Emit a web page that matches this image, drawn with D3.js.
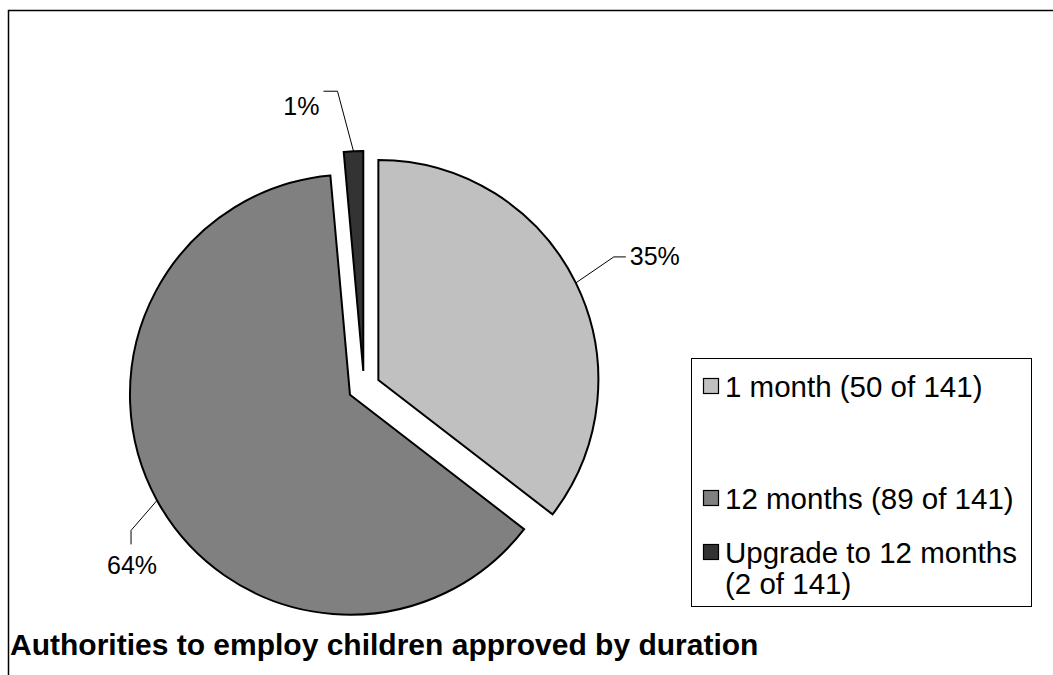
<!DOCTYPE html>
<html><head><meta charset="utf-8">
<script src="https://cdn.jsdelivr.net/npm/d3@7"></script>
<style>body{margin:0;background:#fff}svg{display:block;font-family:"Liberation Sans",Arial,sans-serif}</style>
</head><body><svg id="c" width="1053" height="675"></svg>
<script>
const categories = ["1 month (50 of 141)", "12 months (89 of 141)", "Upgrade to 12 months (2 of 141)"];
const legendLines = [["1 month (50 of 141)"], ["12 months (89 of 141)"], ["Upgrade to 12 months", "(2 of 141)"]];
const values = [50, 89, 2];
const pctLabels = ["35%", "64%", "1%"];
const colors = ["#C0C0C0", "#808080", "#333333"];
const title = "Authorities to employ children approved by duration";

const svg = d3.select("#c");
svg.append("rect").attr("x",8.5).attr("y",10.5).attr("width",1100).attr("height",700)
  .attr("fill","#fff").attr("stroke","#000").attr("stroke-width",1.5);

const cx = 364, cy = 387, R = 220, explode = 16;
const pie = d3.pie().sort(null).value(d=>d);
const arcs = pie(values);
const arc = d3.arc().innerRadius(0).outerRadius(R);
const g = svg.append("g").attr("transform",`translate(${cx},${cy})`);

const leaderCfg = [
  {e:[38,-26], f:[12,0], t:[4,8], a:"start"},
  {e:[-26,30], f:[0,14], t:[1,30], a:"middle"},
  {e:[-16,-60], f:[-14,0], t:[-4,24], a:"end"}
];

arcs.forEach((d,i)=>{
  const mid = (d.startAngle+d.endAngle)/2;
  const ox = explode*Math.sin(mid), oy = -explode*Math.cos(mid);
  const sg = g.append("g").attr("transform",`translate(${ox},${oy})`);
  sg.append("path").attr("d",arc(d)).attr("fill",colors[i])
    .attr("stroke","#000").attr("stroke-width",2).attr("stroke-linejoin","miter");
  const px = R*Math.sin(mid), py = -R*Math.cos(mid);
  const c = leaderCfg[i];
  const ex = px+c.e[0], ey = py+c.e[1];
  const fx = ex+c.f[0], fy = ey+c.f[1];
  sg.append("path").attr("d",`M${px},${py}L${ex},${ey}L${fx},${fy}`)
    .attr("fill","none").attr("stroke","#000").attr("stroke-width",1);
  sg.append("text").attr("x",fx+c.t[0]).attr("y",(i===1?fy:ey)+c.t[1])
    .attr("text-anchor",c.a).attr("font-size",25).text(pctLabels[i]);
});

const lg = svg.append("g");
lg.append("rect").attr("x",691.5).attr("y",358.5).attr("width",340).attr("height",248)
  .attr("fill","#fff").attr("stroke","#000").attr("stroke-width",1);
const rows = [386, 498, 552];
legendLines.forEach((lines,i)=>{
  lg.append("rect").attr("x",703.5).attr("y",rows[i]-7.5).attr("width",15).attr("height",15)
    .attr("fill",colors[i]).attr("stroke","#000").attr("stroke-width",1.2);
  const t = lg.append("text").attr("x",725).attr("y",rows[i]).attr("font-size",29.5);
  lines.forEach((l,j)=>{
    t.append("tspan").attr("x",725).attr("dy", j===0?11:31).text(l);
  });
});

svg.append("text").attr("x",10).attr("y",655).attr("font-size",30).attr("font-weight","bold").text(title);
</script></body></html>
